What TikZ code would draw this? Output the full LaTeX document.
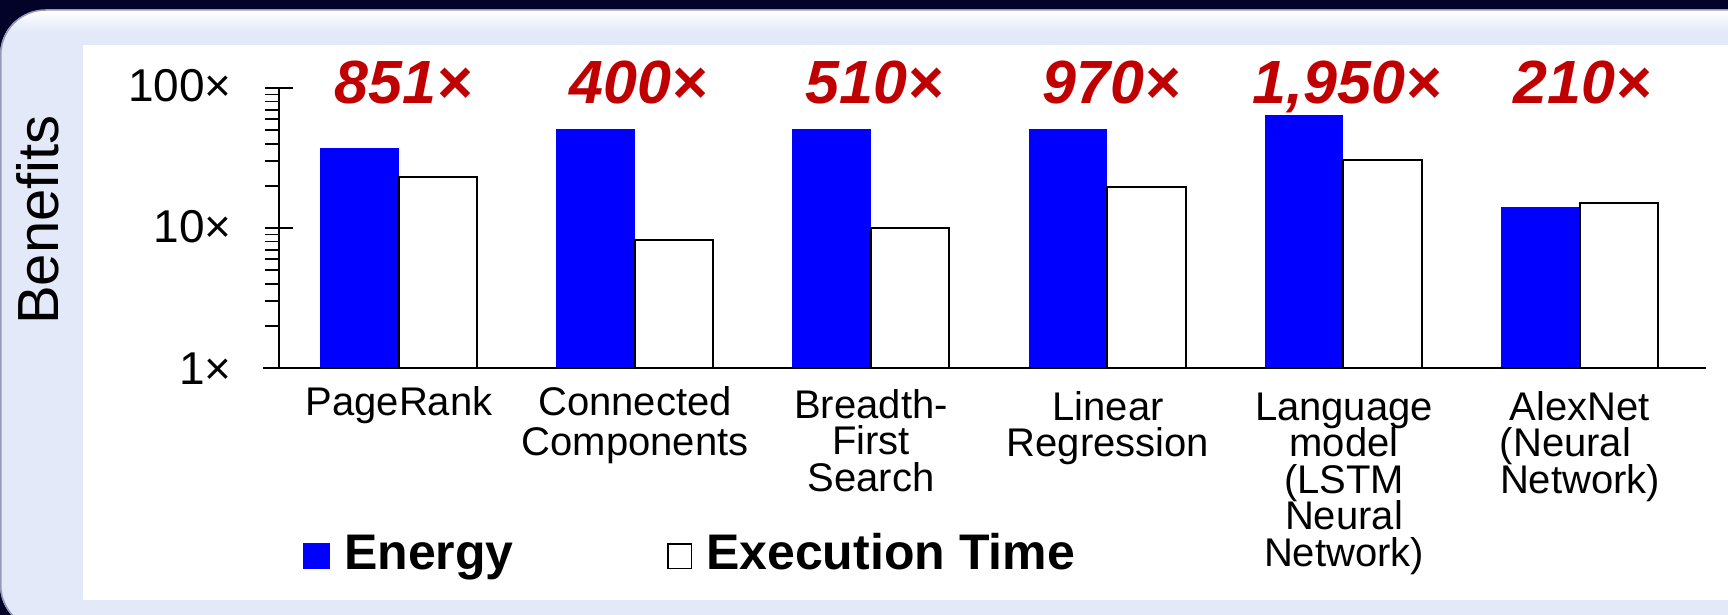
\documentclass[tikz,border=0pt]{standalone}
\usepackage{fontspec}
\setmainfont{Liberation Sans}
\definecolor{navy}{RGB}{3,3,42}
\definecolor{lav}{RGB}{227,233,249}
\definecolor{rim}{RGB}{150,155,185}
\definecolor{gainred}{RGB}{192,0,0}
\definecolor{barblue}{RGB}{0,0,255}
\begin{document}
\begin{tikzpicture}[x=1pt,y=-1pt,
 ebar/.style={fill=barblue,draw=none},
 xbar/.style={fill=white,draw=black,line width=2pt},
 ticklab/.style={font=\fontsize{46}{50}\selectfont,anchor=base east,inner sep=0pt},
 gain/.style={font=\fontsize{61}{64}\selectfont\bfseries\itshape,text=gainred,anchor=base,inner sep=0pt},
 cat/.style={font={\fontsize{40}{36.5}\selectfont\lineskiplimit=-1000pt\lineskip=0pt},align=center,anchor=north,inner sep=0pt},
 legtxt/.style={font=\fontsize{50}{54}\selectfont\bfseries,anchor=base west,inner sep=0pt},
 axisline/.style={line width=2pt,draw=black}]
\useasboundingbox (0,0) rectangle (1728,615);
\fill[navy] (0,0) rectangle (1728,615);
\begin{scope}
\clip[rounded corners=45pt] (0,10) rectangle (1780,630);
\fill[lav] (0,10) rectangle (1780,630);
\shade[top color=white,bottom color=lav] (0,10) rectangle (1780,32);
\end{scope}
\draw[rim,line width=1.5pt,rounded corners=45pt] (0.75,10) rectangle (1780,630);
\fill[white] (83,45) rectangle (1728,600);
% y label
\node[font=\fontsize{58}{60}\selectfont,rotate=90,inner sep=0pt] (ylab) at (38,220) {Benefits};
% bars
\foreach \i/\e/\x in {0/148/177,1/129/240,2/129/228,3/129/187,4/115/160,5/207/203}{
  \pgfmathsetmacro{\L}{320+236.2*\i}
  \fill[ebar] (\L,\e) rectangle ({\L+78.5},368);
  \draw[xbar] ({\L+78.5},368) rectangle ({\L+157},\x);
}
% axes
\draw[axisline] (279,88) -- (279,368);
\draw[axisline] (263,368) -- (1706,368);
\foreach \yy in {88,228}{\draw[axisline] (265,\yy) -- (293,\yy);}
\foreach \k in {2,...,9}{
  \pgfmathsetmacro{\ya}{368-140*log10(\k)}
  \pgfmathsetmacro{\yb}{228-140*log10(\k)}
  \draw[line width=1.8pt] (265,\ya) -- (279,\ya);
  \draw[line width=1.8pt] (265,\yb) -- (279,\yb);
}
% tick labels
\node[ticklab] (t100) at (232,102) {100×};
\node[ticklab] (t10) at (232,242) {10×};
\node[ticklab] (t1) at (232,384) {1×};
% gains
\node[gain] (g1) at (403,103) {851×};
\node[gain] (g2) at (638,103) {400×};
\node[gain] (g3) at (874,103) {510×};
\node[gain] (g4) at (1111,103) {970×};
\node[gain] (g5) at (1347,103) {1,950×};
\node[gain] (g6) at (1582,103) {210×};
% categories
\node[cat] (c1) at (399,385) {\rule{0pt}{30pt}PageRank};
\node[cat] (c2) at (635,385) {\rule{0pt}{30pt}Connected\\[3.5pt]Components};
\node[cat] (c3) at (871,388) {\rule{0pt}{30pt}Breadth-\\First\\Search};
\node[cat] (c4) at (1108,390) {\rule{0pt}{30pt}Linear\\Regression};
\node[cat] (c5) at (1344,390) {\rule{0pt}{30pt}Language\\model\\(LSTM\\Neural\\Network)};
\node[cat] (c6) at (1580,390) {\rule{0pt}{30pt}AlexNet\\(Neural\hspace*{29pt}\mbox{}\\Network)};
% legend
\fill[barblue] (303,543) rectangle (330,569);
\draw[fill=white,draw=black,line width=1.5pt] (667.75,543.75) rectangle (691.25,568.25);
\node[legtxt] (lenergy) at (344,569) {Energy};
\node[legtxt] (ltime) at (706,569) {Execution Time};
\end{tikzpicture}
\end{document}
